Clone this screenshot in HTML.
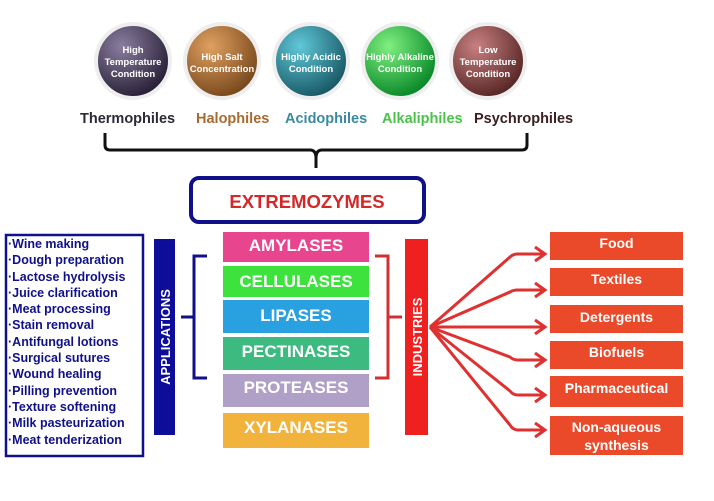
<!DOCTYPE html>
<html><head><style>
body{margin:0;width:714px;height:501px;background:#fff;overflow:hidden;font-family:"Liberation Sans",sans-serif;font-weight:bold}
.a{position:absolute}
.enz{position:absolute;left:223px;width:146px;color:#fff;font-size:17px;text-align:center}
.ind{position:absolute;left:550px;width:133px;background:#ea4a2a;color:#fff;font-size:14px;text-align:center}
</style></head><body>
<svg class="a" style="left:0;top:0" width="714" height="501">
<defs>
<radialGradient id="g1" cx="35%" cy="30%" r="70%"><stop offset="0" stop-color="#8a7ea0"/><stop offset="1" stop-color="#2a2238"/></radialGradient>
<radialGradient id="g2" cx="35%" cy="30%" r="70%"><stop offset="0" stop-color="#e0a060"/><stop offset="1" stop-color="#7a4a1e"/></radialGradient>
<radialGradient id="g3" cx="35%" cy="30%" r="70%"><stop offset="0" stop-color="#60c8d8"/><stop offset="1" stop-color="#1a5a68"/></radialGradient>
<radialGradient id="g4" cx="35%" cy="30%" r="70%"><stop offset="0" stop-color="#80f080"/><stop offset="1" stop-color="#0a8a2a"/></radialGradient>
<radialGradient id="g5" cx="35%" cy="30%" r="70%"><stop offset="0" stop-color="#c88080"/><stop offset="1" stop-color="#5a2828"/></radialGradient>
</defs>
<g stroke="#eee" stroke-width="4">
<circle cx="133" cy="61" r="37" fill="url(#g1)"/>
<circle cx="222" cy="61" r="37" fill="url(#g2)"/>
<circle cx="311" cy="61" r="37" fill="url(#g3)"/>
<circle cx="400" cy="61" r="37" fill="url(#g4)"/>
<circle cx="488" cy="61" r="37" fill="url(#g5)"/>
</g>
<g fill="#fff" font-size="9.5" text-anchor="middle" font-weight="bold">
<text x="133" y="53">High</text><text x="133" y="65">Temperature</text><text x="133" y="77">Condition</text>
<text x="222" y="60">High Salt</text><text x="222" y="72">Concentration</text>
<text x="311" y="60">Highly Acidic</text><text x="311" y="72">Condition</text>
<text x="400" y="60">Highly Alkaline</text><text x="400" y="72">Condition</text>
<text x="488" y="53">Low</text><text x="488" y="65">Temperature</text><text x="488" y="77">Condition</text>
</g>
<g font-size="14.5" font-weight="bold">
<text x="80" y="123" fill="#2a2a3a">Thermophiles</text>
<text x="196" y="123" fill="#a86a30">Halophiles</text>
<text x="285" y="123" fill="#3a8aa0">Acidophiles</text>
<text x="382" y="123" fill="#4ac24a">Alkaliphiles</text>
<text x="474" y="123" fill="#3a2020">Psychrophiles</text>
</g>
<path d="M105 133 V145 Q105 150 110 150 H310 Q316 150 316 158 V168 M316 158 Q316 150 322 150 H522 Q527 150 527 145 V133" fill="none" stroke="#111" stroke-width="3"/>
<rect x="191" y="178" width="233" height="44" rx="8" fill="#fff" stroke="#10108a" stroke-width="4"/>
<text x="307" y="208" text-anchor="middle" fill="#d42828" font-size="18.5" font-weight="bold">EXTREMOZYMES</text>
<rect x="6" y="235" width="137" height="221" fill="#fff" stroke="#10108a" stroke-width="2.5"/>
<rect x="154" y="239" width="21" height="196" fill="#0d0d9a"/>
<text transform="translate(170,337) rotate(-90)" text-anchor="middle" fill="#fff" font-size="13" font-weight="bold">APPLICATIONS</text>
<path d="M181 317 H194 M207 256 H194 V378 H207" fill="none" stroke="#10108a" stroke-width="3"/>
<rect x="405" y="239" width="23" height="196" fill="#ee2020"/>
<text transform="translate(422,337) rotate(-90)" text-anchor="middle" fill="#fff" font-size="13" font-weight="bold">INDUSTRIES</text>
<path d="M375 256 H388 V378 H375 M388 317 H402" fill="none" stroke="#d03030" stroke-width="3"/>
<g fill="none" stroke="#e03030" stroke-width="3">
<path d="M430 327 L510 257 Q513 254 518 254 H543 M535 247 L545 254 L535 261"/>
<path d="M430 327 L510 292 Q513 290 518 290 H543 M535 283 L545 290 L535 297"/>
<path d="M430 327 H543 M535 320 L545 327 L535 334"/>
<path d="M430 327 L510 357 Q513 360 518 360 H543 M535 353 L545 360 L535 367"/>
<path d="M430 327 L510 391 Q513 395 518 395 H543 M535 388 L545 395 L535 402"/>
<path d="M430 327 L510 425 Q513 430 518 430 H543 M535 423 L545 430 L535 437"/>
</g>
</svg>
<div class="a" style="left:8px;top:236px;color:#10108a;font-size:12.5px;line-height:16.3px">·Wine making<br>·Dough preparation<br>·Lactose hydrolysis<br>·Juice clarification<br>·Meat processing<br>·Stain removal<br>·Antifungal lotions<br>·Surgical sutures<br>·Wound healing<br>·Pilling prevention<br>·Texture softening<br>·Milk pasteurization<br>·Meat tenderization</div>
<div class="enz" style="top:232px;height:30px;line-height:28px;background:#e8458f">AMYLASES</div>
<div class="enz" style="top:266px;height:31px;line-height:31px;background:#3de23d">CELLULASES</div>
<div class="enz" style="top:300px;height:33px;line-height:31px;background:#29a0e0">LIPASES</div>
<div class="enz" style="top:337px;height:33px;line-height:30px;background:#3dba7f">PECTINASES</div>
<div class="enz" style="top:374px;height:33px;line-height:28px;background:#b0a0c8">PROTEASES</div>
<div class="enz" style="top:413px;height:35px;line-height:30px;background:#f2b33d">XYLANASES</div>
<div class="ind" style="top:232px;height:28px;line-height:22px">Food</div>
<div class="ind" style="top:268px;height:28px;line-height:22px">Textiles</div>
<div class="ind" style="top:305px;height:28px;line-height:24px">Detergents</div>
<div class="ind" style="top:341px;height:28px;line-height:22px">Biofuels</div>
<div class="ind" style="top:376px;height:31px;line-height:24px">Pharmaceutical</div>
<div class="ind" style="top:416px;height:39px;line-height:18px;padding-top:2px;box-sizing:border-box">Non-aqueous<br>synthesis</div>
</body></html>
